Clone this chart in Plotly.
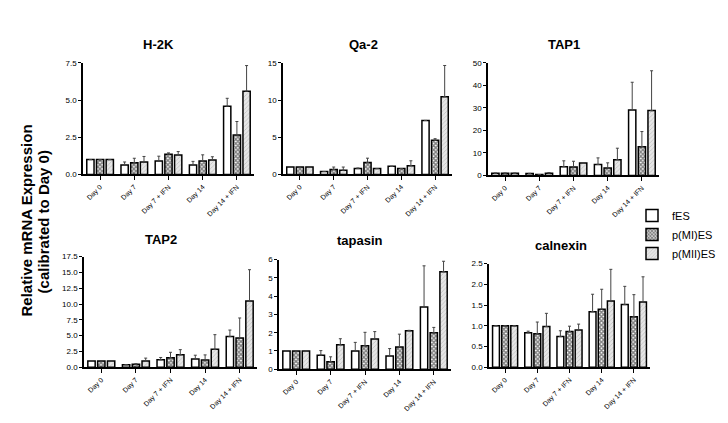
import plotly.graph_objects as go

W, H = 728, 423

categories = ["Day 0", "Day 7", "Day 7 + IFN", "Day 14", "Day 14 + IFN"]
series_names = ["fES", "p(MI)ES", "p(MII)ES"]

# H-2K
h2k_fes = [1.0, 0.64, 0.90, 0.64, 4.59]
h2k_fes_err = [0.0, 0.20, 0.33, 0.24, 0.53]
h2k_mi = [1.0, 0.79, 1.36, 0.90, 2.66]
h2k_mi_err = [0.0, 0.30, 0.09, 0.42, 0.90]
h2k_mii = [1.0, 0.84, 1.30, 0.97, 5.60]
h2k_mii_err = [0.0, 0.37, 0.24, 0.22, 1.72]

# Qa-2
qa2_fes = [1.0, 0.40, 0.79, 1.09, 7.26]
qa2_fes_err = [0.0, 0.0, 0.08, 0.0, 0.0]
qa2_mi = [1.0, 0.66, 1.62, 0.79, 4.59]
qa2_mi_err = [0.0, 0.34, 0.57, 0.0, 0.22]
qa2_mii = [1.0, 0.57, 0.79, 1.18, 10.45]
qa2_mii_err = [0.0, 0.43, 0.0, 0.66, 4.20]

# TAP1
tap1_fes = [1.0, 0.9, 3.9, 4.9, 29.1]
tap1_fes_err = [0.0, 0.0, 2.6, 2.9, 12.3]
tap1_mi = [1.0, 0.4, 3.8, 3.3, 12.8]
tap1_mi_err = [0.0, 0.0, 2.5, 2.3, 6.7]
tap1_mii = [1.0, 1.0, 5.5, 7.0, 28.8]
tap1_mii_err = [0.0, 0.3, 0.0, 5.1, 17.7]

# TAP2
tap2_fes = [1.0, 0.41, 1.19, 1.29, 4.85]
tap2_fes_err = [0.0, 0.0, 0.36, 0.62, 1.04]
tap2_mi = [1.0, 0.46, 1.50, 1.14, 4.65]
tap2_mi_err = [0.0, 0.10, 0.87, 0.82, 3.15]
tap2_mii = [1.0, 0.98, 2.00, 2.84, 10.48]
tap2_mii_err = [0.0, 0.47, 0.79, 2.32, 4.96]

# tapasin
tps_fes = [1.0, 0.77, 1.00, 0.73, 3.40]
tps_fes_err = [0.0, 0.25, 0.47, 0.40, 2.26]
tps_mi = [1.0, 0.41, 1.29, 1.22, 2.00]
tps_mi_err = [0.0, 0.27, 0.73, 0.70, 0.29]
tps_mii = [1.0, 1.34, 1.65, 2.10, 5.34]
tps_mii_err = [0.0, 0.33, 0.41, 0.03, 0.57]

# calnexin
cnx_fes = [1.0, 0.83, 0.74, 1.34, 1.51]
cnx_fes_err = [0.0, 0.04, 0.14, 0.42, 0.44]
cnx_mi = [1.0, 0.81, 0.86, 1.40, 1.22]
cnx_mi_err = [0.0, 0.28, 0.13, 0.48, 0.53]
cnx_mii = [1.0, 0.98, 0.90, 1.60, 1.57]
cnx_mii_err = [0.0, 0.32, 0.14, 0.76, 0.61]

panel_titles = ["H-2K", "Qa-2", "TAP1", "TAP2", "tapasin", "calnexin"]
y_max = [7.5, 15, 50, 17.5, 6, 2.5]
y_dtick = [2.5, 5, 10, 2.5, 1, 0.5]
y_fmt = [".1f", "d", "d", ".1f", "d", ".1f"]

panels = [
    (h2k_fes, h2k_fes_err, h2k_mi, h2k_mi_err, h2k_mii, h2k_mii_err),
    (qa2_fes, qa2_fes_err, qa2_mi, qa2_mi_err, qa2_mii, qa2_mii_err),
    (tap1_fes, tap1_fes_err, tap1_mi, tap1_mi_err, tap1_mii, tap1_mii_err),
    (tap2_fes, tap2_fes_err, tap2_mi, tap2_mi_err, tap2_mii, tap2_mii_err),
    (tps_fes, tps_fes_err, tps_mi, tps_mi_err, tps_mii, tps_mii_err),
    (cnx_fes, cnx_fes_err, cnx_mi, cnx_mi_err, cnx_mii, cnx_mii_err),
]

# pixel boxes (left, right, top, bottom) of each plot area
boxes = [
    (75, 246, 52, 166),
    (275, 444, 52, 166),
    (480, 651, 52, 167),
    (76, 249, 250, 363),
    (271, 443, 253, 365),
    (481, 642, 257, 363),
]
title_pos = [(150, 33), (355, 33), (556, 33), (153, 232), (352, 233), (553, 239)]

styles = [
    dict(color="white", pattern=None),
    dict(color="white", pattern=dict(shape="x", fgcolor="black", bgcolor="white", size=3, solidity=0.7)),
    dict(color="#e6e6e6", pattern=dict(shape="/", fgcolor="#9a9a9a", bgcolor="#e6e6e6", size=3, solidity=0.25)),
]

fig = go.Figure()
font_main = "Liberation Sans, Arial, sans-serif"

for i, data in enumerate(panels):
    n = "" if i == 0 else str(i + 1)
    vals = [data[0], data[2], data[4]]
    errs = [data[1], data[3], data[5]]
    for s in range(3):
        marker = dict(color=styles[s]["color"], line=dict(color="black", width=1.5))
        if styles[s]["pattern"] is not None:
            marker["pattern"] = styles[s]["pattern"]
        fig.add_trace(go.Bar(
            x=categories, y=vals[s], name=series_names[s],
            legendgroup=series_names[s], showlegend=(i == 0),
            marker=marker,
            error_y=dict(type="data", array=errs[s], arrayminus=[0] * 5, symmetric=False,
                         color="#444444", thickness=1, width=1.5),
            xaxis="x" + n, yaxis="y" + n,
        ))
    l, r, t, b = boxes[i]
    fig.layout["xaxis" + n] = dict(
        domain=[l / W, r / W], anchor="y" + n, showline=True, linecolor="black", linewidth=1.5,
        ticks="outside", ticklen=4, tickwidth=1, tickcolor="black", tickangle=-45,
        tickfont=dict(size=7, family=font_main, color="black"), showgrid=False,
        range=[-0.5, 4.5], fixedrange=True,
    )
    fig.layout["yaxis" + n] = dict(
        domain=[1 - b / H, 1 - t / H], anchor="x" + n, showline=True, linecolor="black", linewidth=1.5,
        ticks="outside", ticklen=3, tickwidth=1, tickcolor="black",
        range=[0, y_max[i]], dtick=y_dtick[i], tick0=0, tickformat=y_fmt[i],
        tickfont=dict(size=8, family=font_main, color="black"), showgrid=False, zeroline=False,
        fixedrange=True,
    )
    tx, ty = title_pos[i]
    fig.add_annotation(x=tx / W, y=1 - ty / H, xref="paper", yref="paper", showarrow=False,
                       text="<b>%s</b>" % panel_titles[i], xanchor="center", yanchor="middle",
                       font=dict(size=13, family=font_main, color="black"))

fig.add_annotation(x=18 / W, y=1 - 213 / H, xref="paper", yref="paper", showarrow=False,
                   text="<b>Relative mRNA Expression</b>",
                   textangle=-90, xanchor="center", yanchor="middle",
                   font=dict(size=15, family=font_main, color="black"))
fig.add_annotation(x=35 / W, y=1 - 215 / H, xref="paper", yref="paper", showarrow=False,
                   text="<b>(calibrated to Day 0)</b>",
                   textangle=-90, xanchor="center", yanchor="middle",
                   font=dict(size=15, family=font_main, color="black"))

fig.update_layout(
    width=W, height=H, margin=dict(l=0, r=0, t=0, b=0),
    paper_bgcolor="white", plot_bgcolor="white",
    barmode="group", bargap=0.15, bargroupgap=0.25,
    legend=dict(x=624 / W, y=1 - 193 / H, xanchor="left", yanchor="top",
                font=dict(size=11, family=font_main, color="black"),
                bgcolor="rgba(0,0,0,0)", tracegroupgap=0, itemwidth=30),
    showlegend=True,
)

fig.write_html("out.html")
